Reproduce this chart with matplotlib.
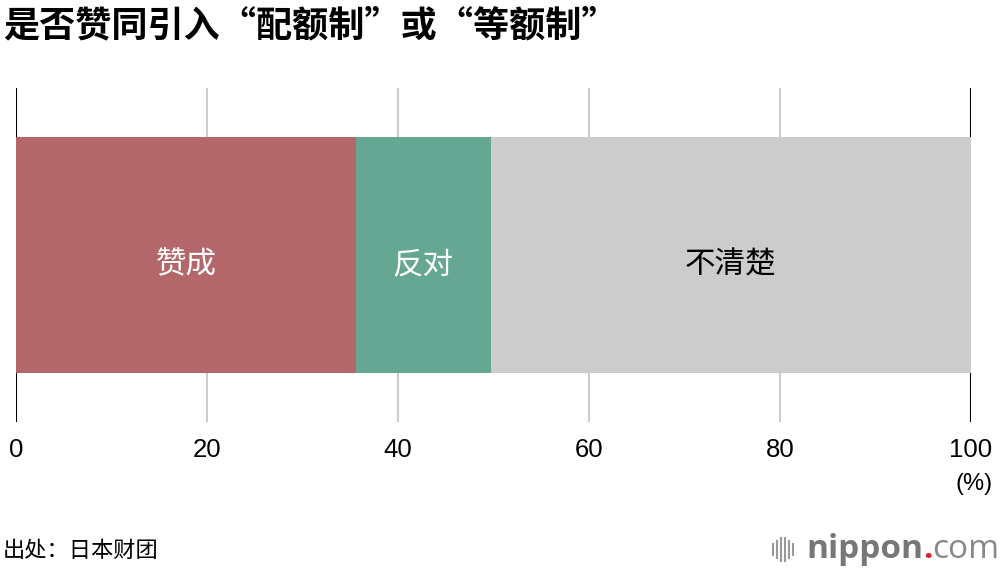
import matplotlib.pyplot as plt

plt.rcParams['font.family'] = ['Noto Sans CJK SC', 'DejaVu Sans']

# data
labels = ['赞成', '反对', '不清楚']
values = [35.6, 14.1, 50.3]
colors = ['#b3676a', '#65a793', '#cccccc']
text_colors = ['white', 'white', 'black']
ticks = [0, 20, 40, 60, 80, 100]

fig = plt.figure(figsize=(10, 5.7), dpi=100)
ax = fig.add_axes([0.016, 0.2596, 0.955, 0.586])

left = 0
for lab, v, c, tc in zip(labels, values, colors, text_colors):
    ax.barh(0.5, v, left=left, height=0.706, color=c, zorder=2)
    ax.text(left + v / 2, 0.47, lab, ha='center', va='center', color=tc,
            fontsize=22, fontweight='medium', zorder=3)
    left += v

for t in ticks:
    if t in (0, 100):
        ax.axvline(t, color='black', lw=1.5, zorder=1)
    else:
        ax.axvline(t, color='#cccccc', lw=1.5, zorder=1)
    ax.text(t, -0.085, str(t), ha='center', va='center', fontsize=18.5,
            family=['Liberation Sans', 'DejaVu Sans'])

ax.text(100.3, -0.185, '(%)', ha='center', va='center', fontsize=17,
        family=['Liberation Sans', 'DejaVu Sans'])

ax.set_xlim(0, 100)
ax.set_ylim(0, 1)
ax.axis('off')

fig.text(0.003, 0.955, '是否赞同引入“配额制”或“等额制”', fontsize=26, fontweight='bold',
         ha='left', va='center')
fig.text(0.003, 0.034, '出处：日本财团', fontsize=16, ha='left', va='center')

# logo
logo_font = ['Open Sans', 'DejaVu Sans']
t1 = fig.text(0.806, 0.036, 'nippon', fontsize=24, fontweight='bold', color='#777777',
              ha='left', va='center', family=logo_font)
dot = ax.annotate('.', xy=(1, 0), xycoords=t1, ha='left', va='bottom', fontsize=24,
                  color='#e6202a', fontweight='bold', family=logo_font, annotation_clip=False)
ax.annotate('com', xy=(1, 0), xycoords=dot, ha='left', va='bottom', fontsize=24,
            color='#888888', family=logo_font, annotation_clip=False)
for i, h in enumerate([0.018, 0.03, 0.042, 0.042, 0.03, 0.018]):
    fig.add_artist(plt.Line2D([0.773 + i * 0.004] * 2, [0.036 - h / 2, 0.036 + h / 2],
                              color='#999999', lw=1.5))

fig.savefig('out.png', dpi=100)
